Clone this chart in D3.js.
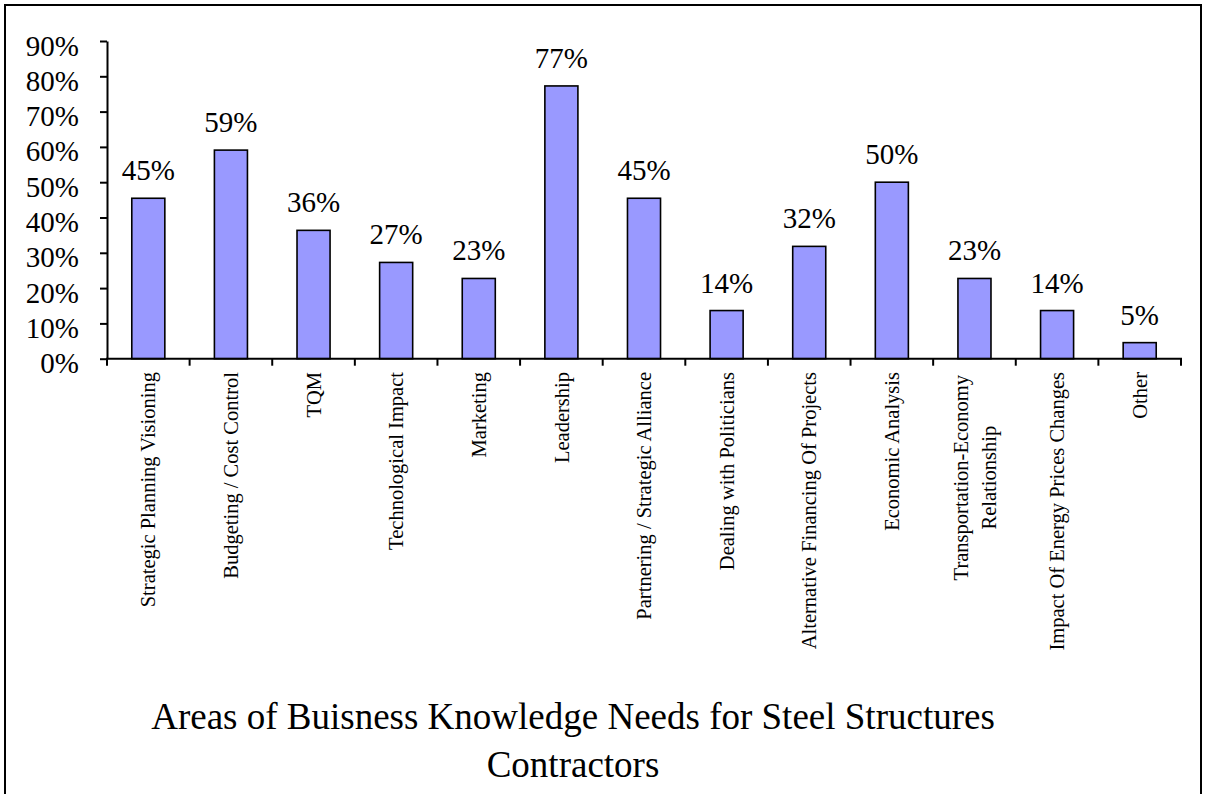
<!DOCTYPE html>
<html>
<head>
<meta charset="utf-8">
<script src="https://cdn.jsdelivr.net/npm/d3@7/dist/d3.min.js"></script>
<style>
  html, body { margin: 0; padding: 0; background: #fff; }
  svg { display: block; }
  svg text { font-family: "Liberation Serif", "Times New Roman", Times, serif !important; fill: #000; }
</style>
</head>
<body>
<svg id="chart" width="1206" height="794" font-family="Liberation Serif, Times New Roman, serif"></svg>
<script>
const categories = [
  "Strategic Planning Visioning",
  "Budgeting / Cost Control",
  "TQM",
  "Technological Impact",
  "Marketing",
  "Leadership",
  "Partnering / Strategic Alliance",
  "Dealing with Politicians",
  "Alternative Financing Of Projects",
  "Economic Analysis",
  "Transportation-Economy\nRelationship",
  "Impact Of Energy Prices Changes",
  "Other"
];
const values = [45.45, 59.09, 36.36, 27.27, 22.73, 77.27, 45.45, 13.64, 31.82, 50.00, 22.73, 13.64, 4.55];
const yTicks = [0, 10, 20, 30, 40, 50, 60, 70, 80, 90];
const titleLines = ["Areas of Buisness Knowledge Needs for Steel Structures", "Contractors"];

const FONT = "'Liberation Serif', 'Times New Roman', Times, serif";
const svg = d3.select("#chart");

// frame
svg.append("rect")
  .attr("x", 5).attr("y", 5).attr("width", 1196).attr("height", 820)
  .attr("fill", "none").attr("stroke", "#000").attr("stroke-width", 2);

const plotLeft = 107, plotRight = 1181, plotTop = 41, plotBottom = 358.7;

const x = d3.scaleBand().domain(categories).range([plotLeft, plotRight]).padding(0);
const y = d3.scaleLinear().domain([0, 90]).range([plotBottom, plotTop]);
const fmt = d3.format(".0%");

// bars
const barW = x.bandwidth() * 0.4;
svg.append("g").selectAll("rect").data(values).join("rect")
  .attr("x", (d, i) => x(categories[i]) + (x.bandwidth() - barW) / 2)
  .attr("y", d => y(d))
  .attr("width", barW)
  .attr("height", d => y(0) - y(d))
  .attr("fill", "#9999FF")
  .attr("stroke", "#000")
  .attr("stroke-width", 1.6);

// value labels
svg.append("g").selectAll("text").data(values).join("text")
  .attr("x", (d, i) => x(categories[i]) + x.bandwidth() / 2)
  .attr("y", d => y(d) - 18)
  .attr("text-anchor", "middle")
  .style("font-family", FONT)
  .style("font-size", "29px")
  .text(d => fmt(d / 100));

// y axis
const yAxis = d3.axisLeft(y)
  .tickValues(yTicks)
  .tickSize(7)
  .tickSizeOuter(0)
  .tickPadding(21)
  .tickFormat(d => d + "%");
const gy = svg.append("g").attr("transform", `translate(${plotLeft},0)`).call(yAxis)
  .attr("font-family", FONT);
gy.select(".domain").attr("stroke", "#000").attr("stroke-width", 2);
gy.selectAll(".tick line").attr("stroke", "#000").attr("stroke-width", 2);
gy.selectAll(".tick text")
  .attr("dy", "14px")
  .style("font-size", "29px")
  .style("font-family", FONT)
  .attr("fill", "#000");

// x axis line and boundary ticks
svg.append("line")
  .attr("x1", plotLeft - 1).attr("x2", plotRight + 1)
  .attr("y1", y(0)).attr("y2", y(0))
  .attr("stroke", "#000").attr("stroke-width", 2);
const boundaries = categories.map(c => x(c)).concat([x.range()[1]]);
svg.append("g").selectAll("line").data(boundaries).join("line")
  .attr("x1", d => d).attr("x2", d => d)
  .attr("y1", y(0)).attr("y2", y(0) + 7)
  .attr("stroke", "#000").attr("stroke-width", 2);

// category labels (rotated)
const labelTop = 372;
const lineGap = 28;
const catG = svg.append("g");
categories.forEach((c, i) => {
  const lines = c.split("\n");
  const cx = x(c) + x.bandwidth() / 2;
  if (lines.length === 1) {
    catG.append("text")
      .attr("transform", `translate(${cx},${labelTop}) rotate(-90)`)
      .attr("text-anchor", "end")
      .attr("dy", "0.35em")
      .style("font-family", FONT)
      .style("font-size", "20.5px")
      .text(c);
  } else {
    const g = catG.append("g");
    const texts = lines.map((ln, j) => g.append("text")
      .attr("text-anchor", "middle")
      .attr("dy", "0.35em")
      .style("font-family", FONT)
      .style("font-size", "20.5px")
      .text(ln));
    const maxLen = d3.max(texts, t => t.node().getComputedTextLength());
    const cy = labelTop + maxLen / 2 + 3;
    texts.forEach((t, j) => {
      const off = (j - (lines.length - 1) / 2) * lineGap;
      t.attr("transform", `translate(${cx + off},${cy}) rotate(-90)`);
    });
  }
});

// title
svg.append("g").selectAll("text").data(titleLines).join("text")
  .attr("x", 573)
  .attr("y", (d, i) => 729 + i * 48)
  .attr("text-anchor", "middle")
  .style("font-family", FONT)
  .style("font-size", "37px")
  .text(d => d);
</script>
</body>
</html>
